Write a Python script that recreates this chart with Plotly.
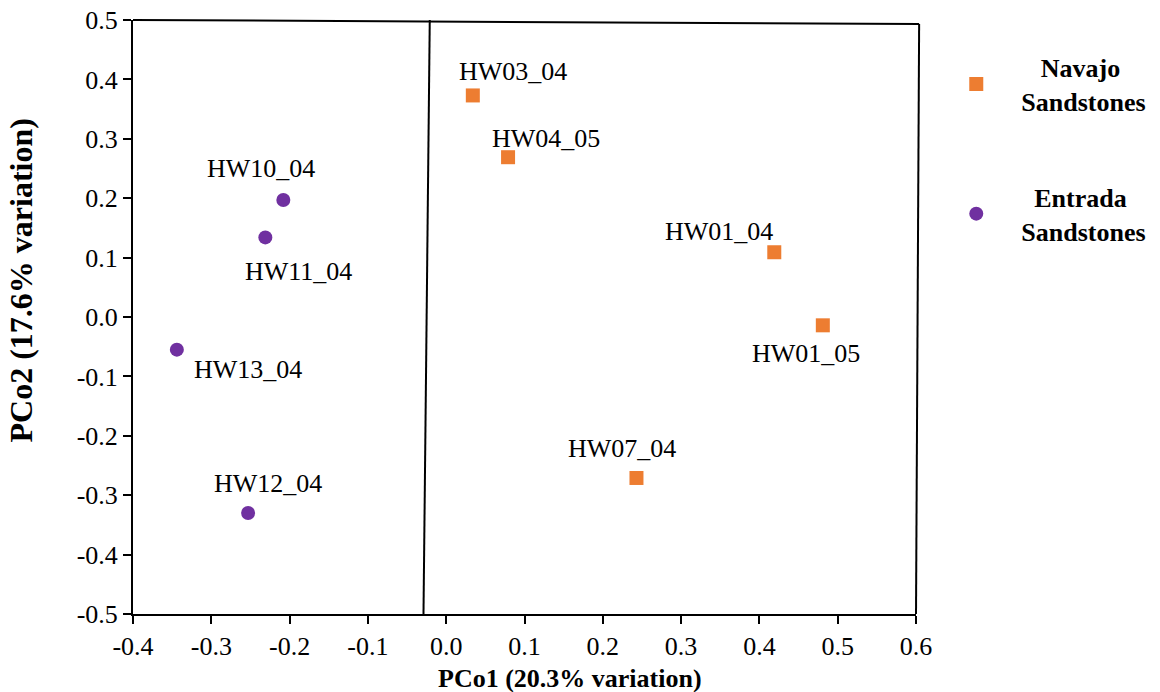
import plotly.graph_objects as go

# ---- data ----
navajo_labels = ["HW03_04", "HW04_05", "HW01_04", "HW01_05", "HW07_04"]
navajo_x = [0.034, 0.079, 0.419, 0.481, 0.243]
navajo_y = [0.373, 0.269, 0.109, -0.014, -0.271]

entrada_labels = ["HW10_04", "HW11_04", "HW13_04", "HW12_04"]
entrada_x = [-0.208, -0.231, -0.344, -0.253]
entrada_y = [0.197, 0.134, -0.055, -0.330]

x_tick_vals = [-0.4, -0.3, -0.2, -0.1, 0.0, 0.1, 0.2, 0.3, 0.4, 0.5, 0.6]
x_tick_text = ["-0.4", "-0.3", "-0.2", "-0.1", "0.0", "0.1", "0.2", "0.3", "0.4", "0.5", "0.6"]
y_tick_vals = [0.5, 0.4, 0.3, 0.2, 0.1, 0.0, -0.1, -0.2, -0.3, -0.4, -0.5]
y_tick_text = ["0.5", "0.4", "0.3", "0.2", "0.1", "0.0", "-0.1", "-0.2", "-0.3", "-0.4", "-0.5"]

# ---- styles ----
FONT = "Liberation Serif"
ORANGE = "#ED7D31"
PURPLE = "#7030A0"
# label offsets (px) relative to each point
label_shift = {
    "HW03_04": (40, 24), "HW04_05": (38, 19), "HW01_04": (-55, 21),
    "HW01_05": (-17, -28), "HW07_04": (-14, 29), "HW10_04": (-22, 31),
    "HW11_04": (33, -34), "HW13_04": (71, -20), "HW12_04": (20, 30),
}

NB = "\u00a0"
legend_names = [
    f"<b>{NB*3}Navajo<br>Sandstones</b>",
    f"<b>{NB*2}Entrada<br>Sandstones</b>",
]

fig = go.Figure()
fig.add_trace(go.Scatter(
    x=navajo_x, y=navajo_y, mode="markers", name=legend_names[0],
    legendgroup="a",
    marker=dict(symbol="square", size=14, color=ORANGE),
    hovertext=navajo_labels,
))
fig.add_trace(go.Scatter(
    x=entrada_x, y=entrada_y, mode="markers", name=legend_names[1],
    legendgroup="b",
    marker=dict(symbol="circle", size=14, color=PURPLE),
    hovertext=entrada_labels,
))

annotations = []
for labs, xs, ys in [(navajo_labels, navajo_x, navajo_y), (entrada_labels, entrada_x, entrada_y)]:
    for lab, xv, yv in zip(labs, xs, ys):
        dx, dy = label_shift[lab]
        annotations.append(dict(
            x=xv, y=yv, xref="x", yref="y", text=lab, showarrow=False,
            xshift=dx, yshift=dy, xanchor="center", yanchor="middle",
            font=dict(family=FONT, size=26, color="black"),
        ))

annotations.append(dict(
    x=0.558, y=-0.108, xref="paper", yref="paper",
    text="<b>PCo1 (20.3% variation)</b>", showarrow=False,
    xanchor="center", yanchor="middle",
    font=dict(family=FONT, size=26, color="black"),
))
annotations.append(dict(
    x=-0.143, y=0.5615, xref="paper", yref="paper",
    text="<b>PCo2 (17.6% variation)</b>", showarrow=False, textangle=-90,
    xanchor="center", yanchor="middle",
    font=dict(family=FONT, size=32, color="black"),
))

shapes = [
    # slightly skewed frame (top and right)
    dict(type="line", xref="paper", yref="paper", x0=0, y0=1.0, x1=1.004, y1=0.9933,
         line=dict(color="black", width=2)),
    dict(type="line", xref="paper", yref="paper", x0=1.004, y0=0.9933, x1=1.0, y1=0,
         line=dict(color="black", width=2)),
    # dividing line
    dict(type="line", xref="x", yref="y", x0=-0.021, y0=0.5, x1=-0.029, y1=-0.5,
         line=dict(color="black", width=2)),
]

axis_common = dict(
    showline=True, linewidth=2, linecolor="black", mirror=False,
    ticks="outside", ticklen=8, tickwidth=2, tickcolor="black",
    showgrid=False, zeroline=False, automargin=False,
    tickfont=dict(family=FONT, size=26, color="black"),
)

fig.update_layout(
    width=1160, height=692,
    margin=dict(l=133, r=244, t=20, b=78, autoexpand=False),
    plot_bgcolor="white", paper_bgcolor="white",
    font=dict(family=FONT, size=26, color="black"),
    xaxis=dict(range=[-0.4, 0.6], tickvals=x_tick_vals, ticktext=x_tick_text, **axis_common),
    yaxis=dict(range=[-0.5, 0.5], tickvals=y_tick_vals, ticktext=y_tick_text, **axis_common),
    showlegend=True,
    legend=dict(
        x=1.0195, y=0.96, xanchor="left", yanchor="top",
        traceorder="grouped", tracegroupgap=59,
        font=dict(family=FONT, size=26, color="black"),
        itemwidth=80, bgcolor="rgba(0,0,0,0)",
    ),
    annotations=annotations,
    shapes=shapes,
)

fig.write_html("out.html")
